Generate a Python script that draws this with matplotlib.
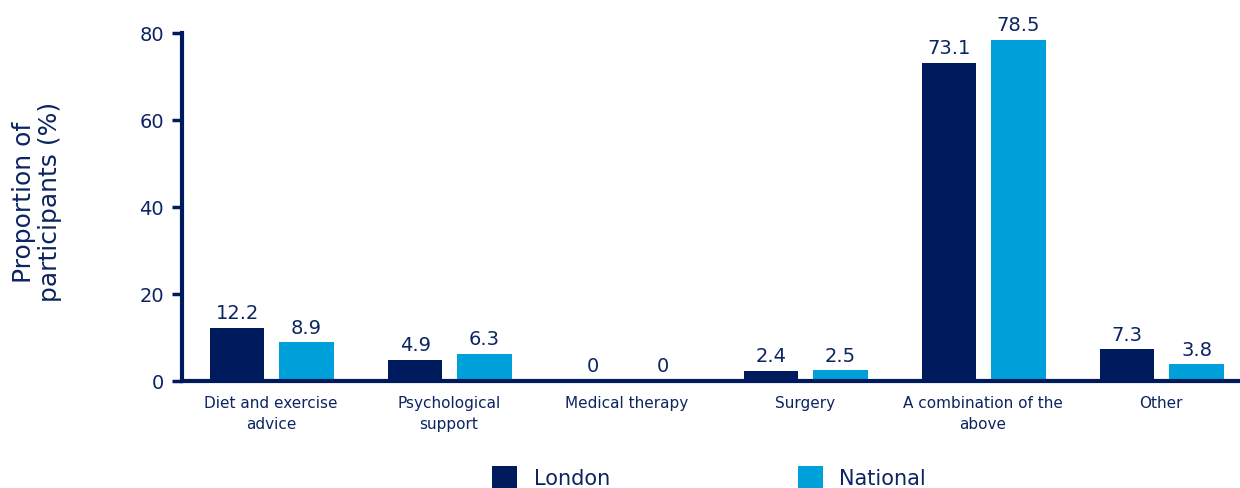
import matplotlib
matplotlib.use("Agg")
import matplotlib.pyplot as plt
import numpy as np

categories = ["Diet and exercise\nadvice", "Psychological\nsupport", "Medical therapy",
              "Surgery", "A combination of the\nabove", "Other"]
london = [12.2, 4.9, 0, 2.4, 73.1, 7.3]
national = [8.9, 6.3, 0, 2.5, 78.5, 3.8]
series_names = ["London", "National"]
yticks = [0, 20, 40, 60, 80]

navy = "#001A5E"
blue = "#00A0DA"
txt = "#0C2461"

plt.rcParams['font.family'] = ['DejaVu Sans']
fig = plt.figure(figsize=(12.4, 4.89), dpi=100)
ax = fig.add_axes([182/1240, 1 - 382/489, 1 - 182/1240, (382 - 34)/489])

x = np.arange(len(categories))
w = 0.305
b1 = ax.bar(x - 0.19, london, w, color=navy, label=series_names[0])
b2 = ax.bar(x + 0.2, national, w, color=blue, label=series_names[1])
for bars, vals in ((b1, london), (b2, national)):
    for r, v in zip(bars, vals):
        ax.annotate(f"{v:g}", (r.get_x() + r.get_width()/2, v), xytext=(0, 4),
                    textcoords="offset points", ha="center", va="bottom",
                    fontsize=14, color=txt)

ax.set_ylim(0, 80)
ax.set_xlim(-0.5, 5.444)
ax.set_yticks(yticks)
ax.set_xticks(x)
ax.set_xticklabels(categories, fontsize=11, color=txt, linespacing=1.5)
ax.tick_params(axis='x', length=0, pad=10)
ax.tick_params(axis='y', direction='out', length=7, width=2.5, color=navy,
               labelsize=14, labelcolor=txt, pad=6)
for s in ("top", "right"):
    ax.spines[s].set_visible(False)
for s in ("left", "bottom"):
    ax.spines[s].set_color(navy)
    ax.spines[s].set_linewidth(3)

fig.text(37/1240, 1 - 202/489, "Proportion of\nparticipants (%)", rotation=90,
         ha="center", va="center", fontsize=18, color=txt, linespacing=1.15)

fig.legend(handles=[b1, b2], labels=series_names, loc="center",
           bbox_to_anchor=(709/1240, 1 - 478/489), ncol=2, frameon=False,
           fontsize=15, handlelength=1.2, handleheight=1.2, columnspacing=9,
           handletextpad=0.8, labelcolor=txt)

fig.savefig("out.png", dpi=100, facecolor="white")
